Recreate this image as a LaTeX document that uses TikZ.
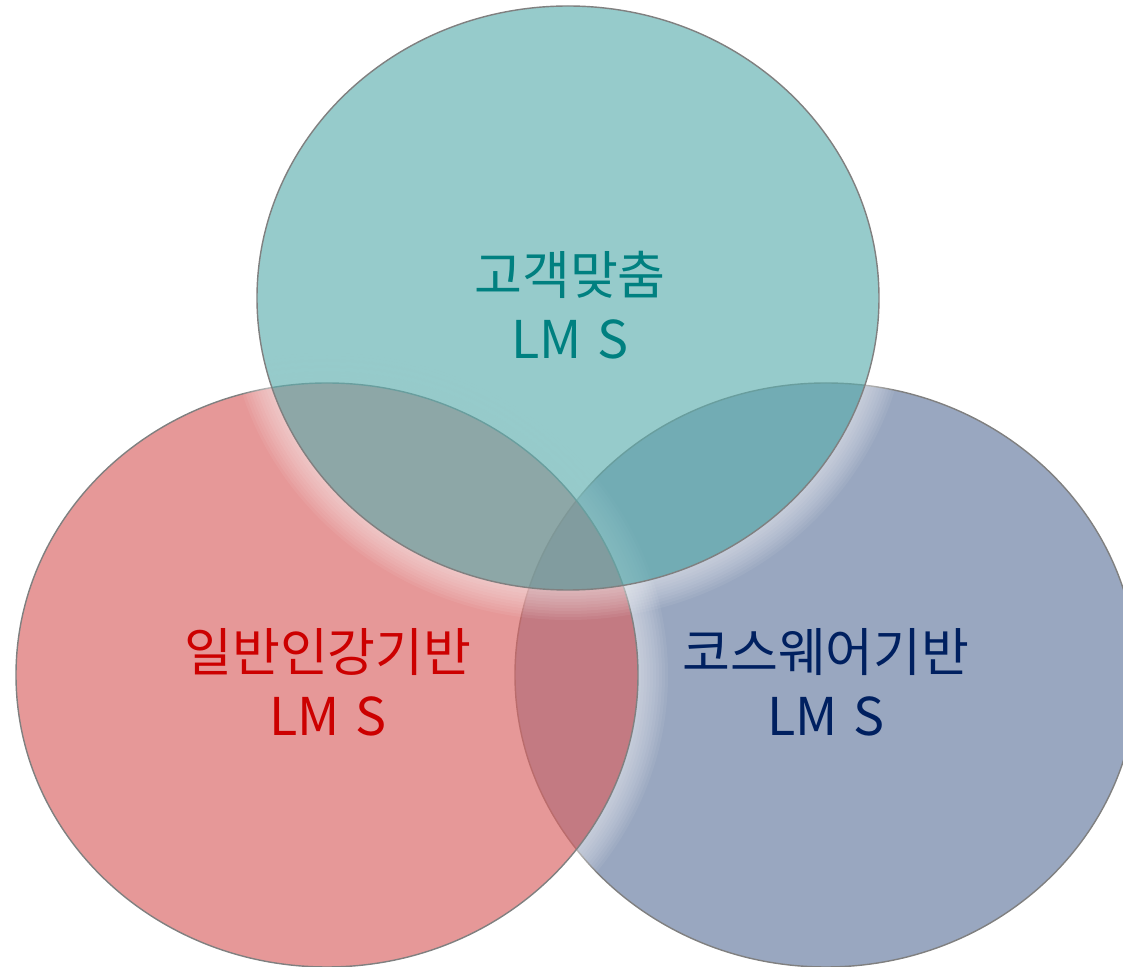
\documentclass[tikz,border=0pt]{standalone}
\usepackage{fontspec}
\newfontfamily\krfont{Noto Sans CJK KR}
\definecolor{tealfill}{RGB}{94,175,175}
\definecolor{redfill}{RGB}{217,99,99}
\definecolor{bluefill}{RGB}{153,167,192}
\definecolor{ringgray}{RGB}{128,128,128}
\definecolor{tealtext}{RGB}{0,128,128}
\definecolor{redtext}{RGB}{204,0,0}
\definecolor{bluetext}{RGB}{0,32,96}

\begin{document}
\begin{tikzpicture}[x=0.01cm, y=-0.01cm]
\tikzset{
  vennlabel/.style={align=center, inner sep=0pt,
    font=\krfont\fontsize{14.8}{18.2}\selectfont},
  ring/.style={draw=ringgray, line width=0.4pt},
  glow/.style={white, opacity=0.06}
}
\useasboundingbox (0,0) rectangle (1123,967);
\clip (0,0) rectangle (1123,967);

% courseware circle (bottom layer)
\draw[ring, fill=bluefill] (826,675) ellipse [x radius=311, y radius=292];

% general lecture circle with glow
\begin{scope}[even odd rule]
  \clip (0,0) rectangle (1123,967) (327,675) ellipse [x radius=311, y radius=292];
  \foreach \w in {6,12,...,60}
    \draw[glow, line width=\w*0.01cm] (327,675) ellipse [x radius=311, y radius=292];
\end{scope}
\draw[ring, fill=redfill, fill opacity=0.66] (327,675) ellipse [x radius=311, y radius=292];

% custom circle with glow
\begin{scope}[even odd rule]
  \clip (0,0) rectangle (1123,967) (568,298) ellipse [x radius=311, y radius=292];
  \foreach \w in {6,12,...,60}
    \draw[glow, line width=\w*0.01cm] (568,298) ellipse [x radius=311, y radius=292];
\end{scope}
\draw[ring, fill=tealfill, fill opacity=0.65] (568,298) ellipse [x radius=311, y radius=292];

% labels
\node[vennlabel, text=tealtext] (custom) at (570,305) {고객맞춤\\LM\hspace{0.3em}S};
\node[vennlabel, text=redtext] (general) at (328,682) {일반인강기반\\LM\hspace{0.3em}S};
\node[vennlabel, text=bluetext] (course) at (826,682) {코스웨어기반\\LM\hspace{0.3em}S};
\end{tikzpicture}
\end{document}
